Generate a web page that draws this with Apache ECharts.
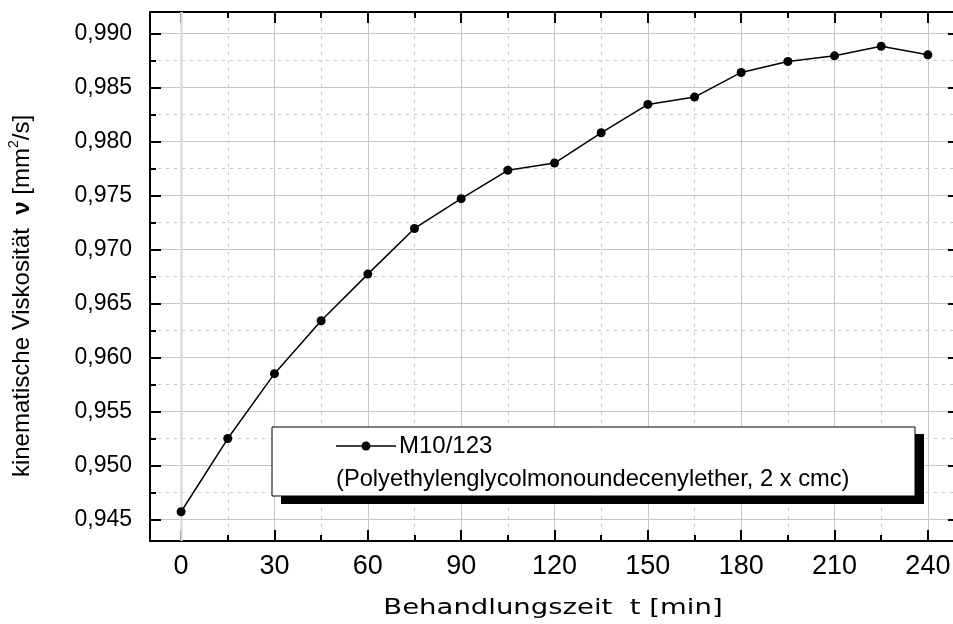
<!DOCTYPE html>
<html>
<head>
<meta charset="utf-8">
<script src="https://cdn.jsdelivr.net/npm/echarts@6/dist/echarts.min.js"></script>
<style>
html,body{margin:0;padding:0;background:#fff;}
#chart{width:953px;height:624px;}
</style>
</head>
<body>
<div id="chart"></div>
<script>
// ---- data ----
const times = [0, 15, 30, 45, 60, 75, 90, 105, 120, 135, 150, 165, 180, 195, 210, 225, 240];
const viscosity = [0.94571, 0.95249, 0.95850, 0.96340, 0.96772, 0.97195, 0.97471, 0.97734, 0.97801,
                   0.98081, 0.98344, 0.98412, 0.98640, 0.98742, 0.98794, 0.98883, 0.98803];
const seriesName = 'M10/123';
const seriesNote = '(Polyethylenglycolmonoundecenylether, 2 x cmc)';
const xTitle = 'Behandlungszeit  t [min]';
const yTitleMain = 'kinematische Viskosität  ';
const xRange = [-10, 250];
const yRange = [0.943, 0.992];
const zeroLine = [0];

const FONT = '"Liberation Sans", Arial, sans-serif';
const chart = echarts.init(document.getElementById('chart'), null, {renderer: 'canvas'});

const baseAxis = {
  type: 'value',
  axisLine: {show: true, onZero: false, lineStyle: {color: '#000', width: 2}},
  axisTick: {show: true, inside: true, length: 11, lineStyle: {color: '#000', width: 2}},
  minorTick: {show: true, splitNumber: 2, length: 6, lineStyle: {color: '#000', width: 2}},
};

const option = {
  animation: false,
  backgroundColor: '#fff',
  grid: {left: 150, top: 12, width: 809, height: 529, containLabel: false, outerBoundsMode: 'none'},
  xAxis: [
    Object.assign({}, baseAxis, {
      min: xRange[0], max: xRange[1], splitNumber: 9, position: 'bottom',
      axisLabel: {show: true, fontSize: 27, color: '#000', fontFamily: FONT, margin: 12,
                  showMinLabel: false, showMaxLabel: false},
      splitLine: {show: true, lineStyle: {color: '#c6c6c6', width: 1}},
      minorSplitLine: {show: true, lineStyle: {color: '#c8c8c8', width: 1, type: [3, 5]}}
    }),
    Object.assign({}, baseAxis, {
      min: xRange[0], max: xRange[1], splitNumber: 9, position: 'top',
      axisLabel: {show: false}, splitLine: {show: false}, minorSplitLine: {show: false}
    })
  ],
  yAxis: [
    Object.assign({}, baseAxis, {
      min: yRange[0], max: yRange[1], splitNumber: 10, position: 'left',
      axisLabel: {show: true, fontSize: 23, color: '#000', fontFamily: FONT, margin: 18,
                  showMinLabel: false, showMaxLabel: false,
                  formatter: v => v.toFixed(3).replace('.', ',')},
      splitLine: {show: true, lineStyle: {color: '#c6c6c6', width: 1}},
      minorSplitLine: {show: true, lineStyle: {color: '#c8c8c8', width: 1, type: [3, 5]}}
    }),
    Object.assign({}, baseAxis, {
      min: yRange[0], max: yRange[1], splitNumber: 10, position: 'right',
      axisLabel: {show: false}, splitLine: {show: false}, minorSplitLine: {show: false}
    })
  ],
  series: [
    {
      name: seriesName,
      type: 'line',
      xAxisIndex: 0, yAxisIndex: 0,
      data: times.map((t, i) => [t, viscosity[i]]),
      symbol: 'circle', symbolSize: 9,
      itemStyle: {color: '#000'},
      lineStyle: {color: '#000', width: 1.5},
      z: 5,
      markLine: {
        silent: true, symbol: 'none', label: {show: false},
        lineStyle: {color: '#dcdcdc', width: 2.5, type: 'solid'},
        data: zeroLine.map(v => ({xAxis: v})),
        z: 1
      }
    }
  ],
  graphic: [
    {type: 'rect', z: 100, shape: {x: 281, y: 434, width: 643, height: 70}, style: {fill: '#000'}},
    {type: 'rect', z: 101, shape: {x: 272, y: 427, width: 643, height: 69},
     style: {fill: '#fff', stroke: '#000', lineWidth: 1}},
    {type: 'line', z: 102, shape: {x1: 336, y1: 446, x2: 396, y2: 446}, style: {stroke: '#000', lineWidth: 1.5}},
    {type: 'circle', z: 103, shape: {cx: 366, cy: 446, r: 4.5}, style: {fill: '#000'}},
    {type: 'text', z: 103, x: 399, y: 446,
     style: {text: seriesName, fontSize: 24, fontFamily: FONT, fill: '#000', verticalAlign: 'middle', align: 'left'}},
    {type: 'text', z: 103, x: 336, y: 479,
     style: {text: seriesNote, fontSize: 23.7, fontFamily: FONT, fill: '#000', verticalAlign: 'middle', align: 'left'}},
    {type: 'text', z: 103, x: 553, y: 608, scaleX: 1.25,
     style: {text: xTitle, fontSize: 22, fontFamily: '"DejaVu Sans", sans-serif', fill: '#000',
             align: 'center', verticalAlign: 'middle'}},
    {type: 'text', z: 103, x: 22, y: 296, rotation: Math.PI / 2,
     style: {
       text: yTitleMain + '{b|ν} [mm{sup|2}/s]',
       fontSize: 24, fontFamily: FONT, fill: '#000', align: 'center', verticalAlign: 'middle',
       rich: {
         b: {fontSize: 24, fontWeight: 'bold', fontFamily: FONT, fill: '#000'},
         sup: {fontSize: 14, fontFamily: FONT, fill: '#000', padding: [0, 0, 15, 0]}
       }
     }}
  ]
};
chart.setOption(option);
</script>
</body>
</html>
